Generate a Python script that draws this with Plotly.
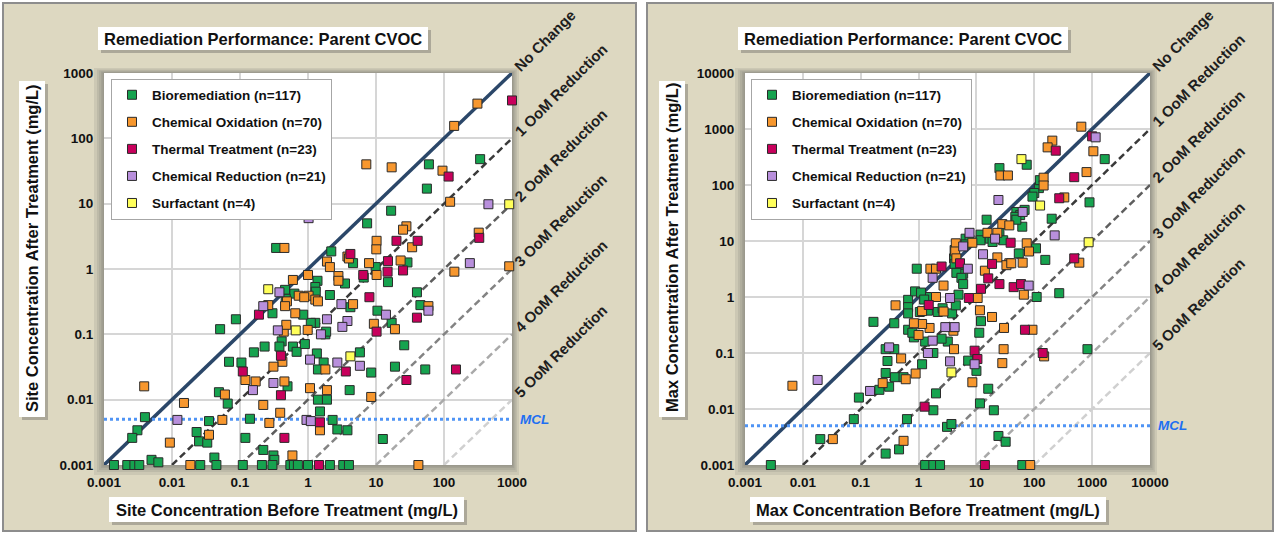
import math
import plotly.graph_objects as go

W, H = 1276, 533

# ---------------- data: left panel (site concentration, mg/L) ----------------
categories = ["Bioremediation (n=117)", "Chemical Oxidation (n=70)", "Thermal Treatment (n=23)",
              "Chemical Reduction (n=21)", "Surfactant (n=4)"]

site_bio_x = [60, 56, 340, 16.7, 29, 15, 40, 45,
              17, 26, 19, 53, 12.6,
              0.004, 0.0031, 0.0026, 0.0014, 0.0022, 0.0028, 0.0033,
              7.4, 0.34, 2.2, 4.6, 9.9, 6.6, 3.5, 1.38, 1.28, 2.1, 4.2, 10.5, 1.8, 1.28, 1.1, 0.85,
              0.46, 0.63, 0.47, 0.3, 0.087, 0.051, 1.85, 1.3,
              0.41, 0.38, 0.6, 0.68, 0.9, 1.35, 1.7, 0.23, 0.16, 0.105, 0.069, 0.5, 0.049, 0.066,
              5.8, 8.5, 1.4, 1.4, 1.9, 4.1, 1.5, 0.035, 0.14, 2.3, 2.7, 3.8, 0.12, 0.023, 0.025,
              0.033, 0.22, 0.31, 0.32, 0.042, 0.005, 0.0063,
              0.026, 0.045, 0.11, 0.21, 0.3, 0.55, 0.62, 0.71, 1.0, 2.1, 3.3, 4.0]
site_bio_y = [40, 17, 48, 7.8, 1.26, 0.63, 0.44, 0.28,
              0.15, 0.068, 0.032, 0.029, 0.0025,
              0.0054, 0.0034, 0.0026, 0.001, 0.001, 0.001, 0.001,
              5.0, 2.1, 1.86, 1.23, 1.07, 0.74, 0.6, 0.66, 0.53, 0.4, 0.26, 0.23, 0.1, 0.15, 0.15, 0.2,
              0.48, 0.42, 0.35, 0.21, 0.17, 0.12, 0.11, 0.45,
              0.078, 0.065, 0.065, 0.054, 0.071, 0.051, 0.037, 0.065, 0.053, 0.037, 0.038, 0.016, 0.013, 0.0087,
              0.053, 0.026, 0.029, 0.01, 0.01, 0.014, 0.0066, 0.0047, 0.0051, 0.0049, 0.0035, 0.0034, 0.0026, 0.0032, 0.0023,
              0.0022, 0.0017, 0.0014, 0.0012, 0.0013, 0.0012, 0.0011,
              0.001, 0.001, 0.001, 0.001, 0.001, 0.001, 0.001, 0.001, 0.001, 0.001, 0.001, 0.001]

site_ox_x = [310, 141, 17, 95, 123, 28, 25, 34, 324, 23, 142, 910, 59, 7.2,
             19, 42, 0.0039,
             10.2, 10.1, 0.45, 3.8, 4.0, 1.9, 2.1, 7.9, 10.2, 2.8, 2.8, 1.0, 0.6, 1.02, 0.73, 0.88, 1.28, 1.4,
             4.6, 9.3, 0.99, 0.44, 0.48, 0.49, 0.65, 0.46, 0.26, 0.42, 0.31, 0.12, 0.17, 0.45, 0.22, 0.06,
             0.015, 1.8, 1.9, 1.07, 8.5, 0.39, 0.27, 0.055, 1.5, 0.035, 0.0093, 0.59, 0.0186]
site_ox_y = [340, 155, 36, 32, 10.7, 4.5, 4.0, 2.15, 3.6, 1.35, 0.91, 1.1, 0.27, 40,
             0.12, 0.001, 0.016,
             2.7, 2.0, 2.1, 1.55, 1.45, 1.3, 1.07, 1.23, 0.81, 0.78, 0.66, 0.81, 0.68, 0.39, 0.39, 0.37, 0.34, 0.32,
             0.29, 0.145, 0.117, 0.11, 0.14, 0.32, 0.21, 0.27, 0.28, 0.038, 0.032, 0.02, 0.019, 0.019, 0.0083, 0.012,
             0.0089, 0.029, 0.014, 0.015, 0.011, 0.0063, 0.0044, 0.0049, 0.0034, 0.0029, 0.0022, 0.0014, 0.001]

site_th_x = [1000, 117, 20, 41, 330, 15, 14.8, 25, 40, 150, 28,
             4.2, 6.5, 8, 10.2, 0.19, 0.4, 0.11, 0.4, 3.6, 1.5, 0.45, 1.45]
site_th_y = [380, 26, 2.7, 2.7, 3.0, 1.32, 0.91, 0.95, 0.18, 0.029, 0.02,
             1.7, 0.81, 0.37, 0.11, 0.2, 0.047, 0.027, 0.0117, 0.027, 0.0045, 0.0026, 0.001]

site_red_x = [450, 240, 59, 14, 1.02, 3.1, 1.9, 3.8, 3.2, 1.55, 0.36, 0.38, 0.22, 1.07, 2.7, 5.8,
              0.31, 0.155, 0.012, 0.95, 1.1]
site_red_y = [9.8, 1.23, 0.23, 0.2, 6.0, 0.29, 0.17, 0.16, 0.13, 0.1, 0.115, 0.44, 0.27, 0.041, 0.037, 0.033,
              0.018, 0.014, 0.0049, 0.0049, 0.0047]

site_surf_x = [910, 0.26, 0.66, 4.2]
site_surf_y = [9.8, 0.49, 0.115, 0.046]

# ---------------- data: right panel (max concentration, mg/L) ----------------
max_bio_x = [74, 25, 120, 100, 125, 200, 49, 68, 57, 47, 93, 155, 107, 54, 15, 11.8, 11.8, 17, 25, 29, 19,
             4.2, 4.1, 4.2, 5.2, 5.9, 0.93, 1650, 900, 62, 49, 6.5, 7.6, 6.5, 4.5, 5.5,
             0.0028, 0.02, 0.076, 0.093, 0.21, 0.31, 0.27, 0.39, 0.55, 0.29, 0.38, 0.27, 1.15, 2.0, 1.8,
             0.63, 0.46, 0.27, 3.1, 3.7, 1.3, 1.8, 2.35, 62, 24, 32, 11.5, 20, 16, 10, 7.2, 1.8, 3.2, 2.5,
             1.3, 0.66, 0.83, 0.78, 0.166, 0.38, 0.66, 0.66, 0.66, 0.87, 1.4, 1.05, 1.45, 2.15, 2.6, 3.8,
             4.4, 4.9, 5.9, 12, 11.2, 110, 270, 830, 1.1, 1.25]
max_bio_y = [230, 200, 88, 72, 122, 25, 33, 36, 29, 27, 62, 4.6, 7.4, 6.0, 24, 13, 10.3, 11, 13.8, 10.3, 9.6,
             6.9, 4.9, 3.9, 3.5, 2.6, 3.2, 290, 49, 18, 24, 11, 10.5, 8.7, 2.7, 2.2,
             0.001, 0.0029, 0.0066, 0.016, 0.022, 0.025, 0.044, 0.037, 0.037, 0.072, 0.117, 0.117, 0.063, 0.019, 0.0095,
             0.0066, 0.0019, 0.0016, 0.0048, 0.0054, 0.001, 0.001, 0.001, 0.001, 0.0033, 0.0026, 0.0126, 0.0095, 0.023,
             0.048, 0.073, 0.1, 0.16, 0.18,
             0.16, 0.26, 0.19, 0.23, 0.36, 0.34, 0.89, 0.66, 0.51, 1.26, 1.0, 0.54, 0.57, 0.54, 0.63, 0.51,
             0.71, 1.1, 1.7, 0.37, 0.23, 1.0, 1.17, 0.117, 1.2, 0.9]

max_ox_x = [650, 205, 170, 26, 35, 145, 145, 330, 800, 1050, 28, 37, 8.5, 4.4, 4.3, 1.6, 2.0, 74, 81, 63,
            37, 23, 33, 40, 14, 600, 15.5, 23, 4.5,
            0.0066, 0.033, 0.24, 0.6, 0.89, 0.5, 0.55, 4.1, 1.55, 1.0, 1.15, 0.83, 0.4, 1.15, 2.0, 2.7,
            10.5, 11.5, 18.6, 30, 29.5, 28, 8.5, 66, 93, 148, 85, 4.0, 2.7]
max_ox_y = [1100, 620, 470, 148, 148, 135, 98, 60, 170, 400, 20, 19, 9.3, 9.1, 6.5, 3.2, 3.2, 9.1, 6.5, 4.1,
            4.0, 5.1, 3.7, 4.0, 2.95, 4.1, 14, 14, 4.9,
            0.026, 0.0029, 0.029, 0.034, 0.043, 0.08, 0.0027, 0.117, 0.28, 0.21, 0.33, 0.34, 0.71, 0.56, 1.0, 0.55,
            0.96, 0.58, 0.44, 0.28, 0.117, 0.066, 0.03, 1.1, 0.26, 0.087, 0.001, 0.25, 1.6]

max_th_x = [235, 490, 1000, 270, 39, 490, 2.5, 5.2, 16, 18.6, 1.27, 9.3, 10.4, 1.5, 7.4, 12, 25, 44, 59,
            69, 140, 14]
max_th_y = [410, 138, 740, 58, 9.3, 4.9, 3.5, 4.0, 2.15, 3.9, 0.011, 0.11, 0.078, 0.72, 0.96, 1.4, 1.7, 1.5, 1.7,
            0.26, 0.1, 0.001]

max_red_x = [1150, 24, 63, 225, 7.6, 5.9, 21, 13, 7.1, 1.75, 0.018, 0.145, 0.31, 1.45, 1.75, 2.9, 4.2, 3.5,
             9.3, 3.5, 80]
max_red_y = [710, 54, 33, 12.6, 14, 8, 11, 5.8, 3.2, 2.2, 0.033, 0.021, 0.126, 0.1, 0.166, 0.29, 0.29, 0.071,
             0.063, 0.96, 1.6]

max_surf_x = [60, 126, 870, 3.7]
max_surf_y = [290, 43, 9.5, 0.045]

left_tick_vals = [0.001, 0.01, 0.1, 1, 10, 100, 1000]
left_tick_text = ["0.001", "0.01", "0.1", "1", "10", "100", "1000"]
right_tick_vals = [0.001, 0.01, 0.1, 1, 10, 100, 1000, 10000]
right_tick_text = ["0.001", "0.01", "0.1", "1", "10", "100", "1000", "10000"]
oom_labels = ["No Change", "1 OoM Reduction", "2 OoM Reduction", "3 OoM Reduction",
              "4 OoM Reduction", "5 OoM Reduction"]
oom_steps = [0, 1, 2, 3, 4, 5]
mcl_value = 0.005
axis_min = 0.001
left_max = 1000
right_max = 10000

# ---------------- styling ----------------
FONT = "Liberation Sans"
colors = ["#16a34f", "#f7972e", "#c8005c", "#b88fdc", "#ffff5a"]
line_styles = [("solid", "#2b4769", 3.5), ("7px,4px", "#3a3a3a", 2.5), ("7px,4px", "#5e5e5e", 2.5),
               ("7px,4px", "#838383", 2.5), ("7px,4px", "#a9a9a9", 2.5), ("7px,4px", "#d0d0d0", 2.5)]


def px(x):
    return x / W


def py(y):
    return 1 - y / H


fig = go.Figure()


def add_panel(xa, ya, xmax, series, legend_name):
    # reference lines
    for k, (dash, col, wd) in zip(oom_steps, line_styles):
        x0 = axis_min * 10 ** k
        fig.add_trace(go.Scatter(x=[x0, xmax], y=[x0 / 10 ** k, xmax / 10 ** k], mode="lines",
                                 line=dict(color=col, width=wd, dash=dash), hoverinfo="skip",
                                 showlegend=False, xaxis=xa, yaxis=ya))
    fig.add_trace(go.Scatter(x=[axis_min, xmax], y=[mcl_value, mcl_value], mode="lines",
                             line=dict(color="#4f94f5", width=3, dash="dot"), hoverinfo="skip",
                             showlegend=False, xaxis=xa, yaxis=ya))
    for i, (name, (sx, sy)) in enumerate(zip(categories, series)):
        fig.add_trace(go.Scatter(x=sx, y=sy, mode="markers", name=name, legend=legend_name,
                                 legendgroup=legend_name + str(i), cliponaxis=False,
                                 marker=dict(symbol="square", size=9, color=colors[i],
                                             line=dict(color="#2a2a2a", width=1)),
                                 xaxis=xa, yaxis=ya))


add_panel("x", "y", left_max,
          [(site_bio_x, site_bio_y), (site_ox_x, site_ox_y), (site_th_x, site_th_y),
           (site_red_x, site_red_y), (site_surf_x, site_surf_y)], "legend")
add_panel("x2", "y2", right_max,
          [(max_bio_x, max_bio_y), (max_ox_x, max_ox_y), (max_th_x, max_th_y),
           (max_red_x, max_red_y), (max_surf_x, max_surf_y)], "legend2")

tickfont = dict(family=FONT, size=13.5, color="#111111", weight="bold")
ydom = [py(465), py(73)]
common = dict(type="log", showgrid=True, gridcolor="#d6d6d6", gridwidth=1.5, zeroline=False,
              showline=False, ticks="outside", tickcolor="rgba(0,0,0,0)", tickfont=tickfont,
              automargin=False)

legend_style = dict(xanchor="left", yanchor="top", bgcolor="white",
                    bordercolor="#a6a6a6", borderwidth=1, tracegroupgap=6.5, itemwidth=30,
                    font=dict(family=FONT, size=13.5, color="#111111", weight="bold"))

fig.update_layout(
    template="none",
    width=W, height=H, margin=dict(l=0, r=0, t=0, b=0, pad=0, autoexpand=False),
    paper_bgcolor="white", plot_bgcolor="white",
    xaxis=dict(domain=[px(104), px(512)], range=[-3, 3], tickvals=left_tick_vals, ticktext=left_tick_text,
               ticklen=5, anchor="y", **common),
    yaxis=dict(domain=ydom, range=[-3, 3], tickvals=left_tick_vals, ticktext=left_tick_text,
               ticklen=7, anchor="x", **common),
    xaxis2=dict(domain=[px(745), px(1150)], range=[-3, 4], tickvals=right_tick_vals, ticktext=right_tick_text,
                ticklen=5, anchor="y2", **common),
    yaxis2=dict(domain=ydom, range=[-3, 4], tickvals=right_tick_vals, ticktext=right_tick_text,
                ticklen=7, anchor="x2", **common),
    legend=dict(x=px(111), y=py(78.5), **legend_style),
    legend2=dict(x=px(751), y=py(78.5), **legend_style),
    showlegend=True,
)

shapes = []


def rect(x0, y0, x1, y1, fill, line_col=None, lw=0):
    shapes.append(dict(type="rect", xref="paper", yref="paper", x0=px(x0), x1=px(x1), y0=py(y1), y1=py(y0),
                       fillcolor=fill, line=dict(color=line_col or "rgba(0,0,0,0)", width=lw), layer="below"))


# panel backgrounds
rect(3, 3, 636, 531, "#ddd8c1", "#8d8d8d", 2)
rect(647, 3, 1273, 531, "#ddd8c1", "#8d8d8d", 2)

# plot-area shadows, then the white plot area on top of them
for (x0, x1) in [(104, 512), (745, 1150)]:
    for d in [10, 7, 5, 3, 1.5]:
        rect(x0 - d, 73 - d * 0.5, x1 + d * 0.7, 465 + d, "rgba(95,95,95,0.13)")
    rect(x0, 73, x1, 465, "white")

# white text boxes with shadows
boxes = [(98, 27, 428, 50), (738, 27, 1068, 50), (19, 81, 45, 417), (659, 81, 685, 417),
         (109, 497, 464, 522), (750, 497, 1106, 522)]
for (a, b, c, d) in boxes:
    rect(a + 3, b + 3, c + 3, d + 3, "rgba(80,80,80,0.35)")
    rect(a, b, c, d, "white")

fig.update_layout(shapes=shapes)

ann = []


def paper_text(text, x, y, size, angle=0):
    ann.append(dict(text=text, x=px(x), y=py(y), xref="paper", yref="paper", showarrow=False,
                    textangle=angle, xanchor="center", yanchor="middle",
                    font=dict(family=FONT, size=size, color="#111111", weight="bold")))


paper_text("Remediation Performance: Parent CVOC", 263, 38.5, 16.5)
paper_text("Remediation Performance: Parent CVOC", 903, 38.5, 16.5)
paper_text("Site Concentration After Treatment (mg/L)", 32, 248, 16.5, -90)
paper_text("Max Concentration After Treatment (mg/L)", 672, 248, 16.5, -90)
paper_text("Site Concentration Before Treatment (mg/L)", 286.5, 509.5, 16.5)
paper_text("Max Concentration Before Treatment (mg/L)", 928, 509.5, 16.5)

lab_font = dict(family=FONT, size=15, color="#1e1e1e", weight="bold")
for xr, yr, xmax in [("x", "y", left_max), ("x2", "y2", right_max)]:
    lm = math.log10(xmax)
    for k, lab in zip(oom_steps, oom_labels):
        ann.append(dict(text=lab, x=lm, y=lm - k, xref=xr, yref=yr, showarrow=False, textangle=-45,
                        xanchor="left", yanchor="bottom", xshift=-4, yshift=-4, font=lab_font))
    ann.append(dict(text="<i>MCL</i>", x=lm, y=math.log10(mcl_value), xref=xr, yref=yr, showarrow=False,
                    xanchor="left", yanchor="middle", xshift=6,
                    font=dict(family=FONT, size=13.5, color="#1d6ff2", weight="bold")))

fig.update_layout(annotations=ann)

# the page's default body margin would shift the whole figure by 8px; remove it
fig.write_html("out.html", config={"displayModeBar": False},
               post_script="document.body.style.margin='0px';")
